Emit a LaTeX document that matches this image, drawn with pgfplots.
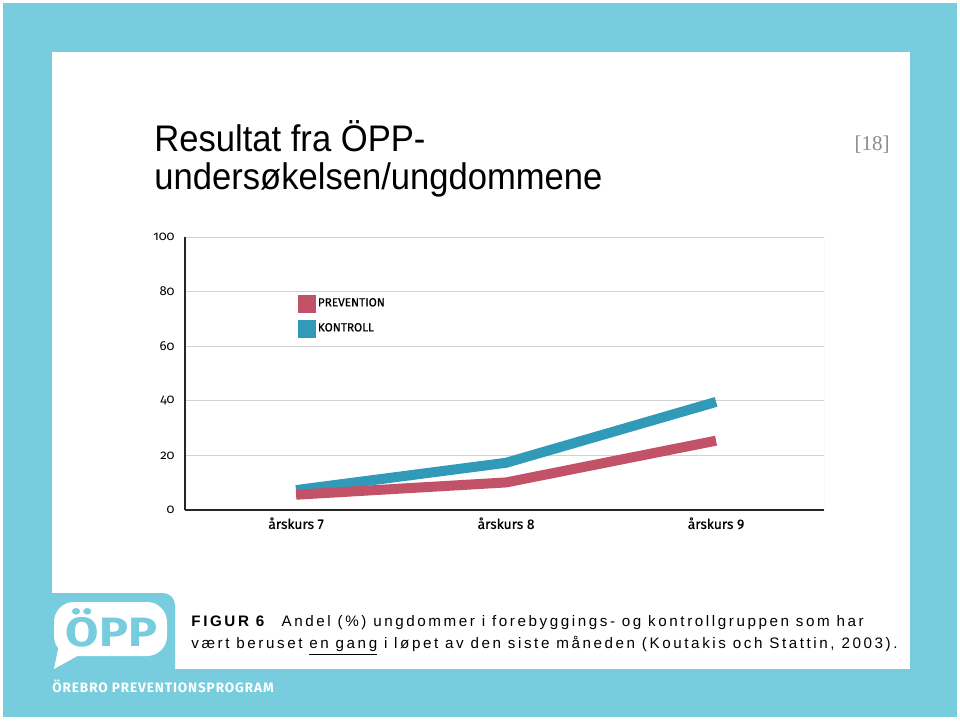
\documentclass[border=0pt]{standalone}
\usepackage{fontspec}
\setmainfont{Liberation Sans}
\newfontfamily\fira{Fira Sans}
\newfontfamily\firamed[FakeBold=0.6]{Fira Sans}
\newfontfamily\firawide[LetterSpace=6.5]{Fira Sans}
\newfontfamily\firaold[Numbers=OldStyle]{Fira Sans}
\newfontfamily\serif{Liberation Serif}
\newfontfamily\capfont[LetterSpace=17]{Liberation Sans}
\usepackage{graphicx}
\usepackage{pgfplots}
\pgfplotsset{compat=1.18}
\definecolor{bgcyan}{RGB}{119,205,221}
\definecolor{prevred}{RGB}{193,82,103}
\definecolor{kontblue}{RGB}{50,154,185}
\begin{document}
\begin{tikzpicture}
\begin{scope}[x=0.5pt,y=-0.5pt]
\useasboundingbox (0,0) rectangle (960,720);
\fill[white] (0,0) rectangle (960,720);
\fill[bgcyan] (3,3) rectangle (957,717);
\fill[white] (52,52) rectangle (910,669);
\fill[bgcyan, rounded corners=6pt] (20,593) rectangle (175,700);
% speech bubble
\fill[white, rounded corners=10pt] (54,602) rectangle (167,656);
\fill[white] (60,640) -- (54,669) -- (88,650) -- cycle;
\node[anchor=base, inner sep=0, text=bgcyan, font=\fira\bfseries\fontsize{20.5}{20.5}\selectfont] at (111.5,646) {\scalebox{1.18}[1]{ÖPP}};
\node[anchor=base west, inner sep=0, text=white, font=\firawide\bfseries\fontsize{6.8}{6.8}\selectfont] at (52,692) {ÖREBRO PREVENTIONSPROGRAM};
% title
\node[anchor=base west, inner sep=0, font=\fontsize{18.5}{18.5}\selectfont] at (154,151) {\scalebox{0.935}[1]{Resultat fra ÖPP-}};
\node[anchor=base west, inner sep=0, font=\fontsize{18.5}{18.5}\selectfont] at (154,189) {\scalebox{0.935}[1]{undersøkelsen/ungdommene}};
\node[anchor=base east, inner sep=0, text=black!45, font=\serif\fontsize{10.5}{10.5}\selectfont] at (890,150) {[18]};
% caption
\node[anchor=base west, inner sep=0, font=\capfont\fontsize{7.6}{7.6}\selectfont] at (191,626) {\textbf{FIGUR 6}\hspace{4pt} Andel (\%) ungdommer i forebyggings- og kontrollgruppen som har};
\node[anchor=base west, inner sep=0, font=\capfont\fontsize{7.6}{7.6}\selectfont] at (191,648) {vært beruset \underline{en gang} i løpet av den siste måneden (Koutakis och Stattin, 2003).};
\end{scope}
\begin{axis}[
  at={(92.5pt,-255pt)}, anchor=south west,
  scale only axis, width=319.5pt, height=136.5pt,
  xmin=-0.529, xmax=2.514, ymin=0, ymax=100,
  xtick={0,1,2}, xticklabels={årskurs 7, årskurs 8, årskurs 9},
  ytick={0,20,40,60,80,100},
  axis x line*=bottom, axis y line*=left,
  axis line style={black!85, line width=1pt},
  major tick length=0pt,
  ymajorgrids, grid style={black!18, line width=0.5pt},
  xticklabel style={font=\firamed\fontsize{6.9}{6.9}\selectfont, inner sep=0pt, anchor=north, yshift=-3.5pt},
  yticklabel style={font=\firaold\fontsize{6.5}{6.5}\selectfont, inner sep=0pt, anchor=east, xshift=-5pt},
  /pgf/number format/assume math mode=true,
  legend style={at={(0.176,0.79)}, anchor=north west, draw=none, fill=none,
    inner sep=0pt, row sep=3.5pt, font=\firamed\fontsize{5.9}{5.9}\selectfont,
    nodes={inner sep=1pt}},
  legend cell align=left,
  reverse legend,
  legend image code/.code={\fill[#1, draw=none] (0pt,-4.5pt) rectangle (9pt,4.5pt);},
]
\addplot[kontblue, line width=5pt, line join=round] coordinates {(0,7.3) (1,17.3) (2,39.6)};
\addlegendentry{KONTROLL}
\addplot[prevred, line width=5pt, line join=round] coordinates {(0,5.6) (1,10.1) (2,25.4)};
\addlegendentry{PREVENTION}
\draw[black!18, line width=0.5pt] (rel axis cs:1,0) -- (rel axis cs:1,1);
\end{axis}
\end{tikzpicture}
\end{document}
